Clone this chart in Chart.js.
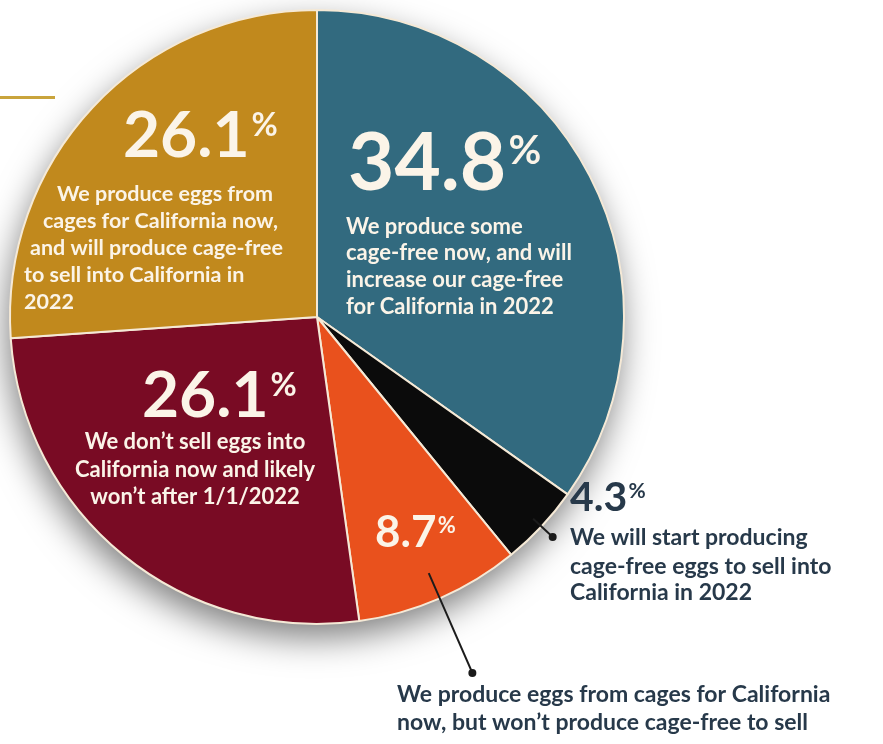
<!DOCTYPE html>
<html>
<head>
<meta charset="utf-8">
<script src="https://cdn.jsdelivr.net/npm/chart.js@4.4.0/dist/chart.umd.min.js"></script>
<style>
  html, body { margin: 0; padding: 0; background: #fff; }
  #wrap { width: 883px; height: 744px; }
</style>
</head>
<body>
<div id="wrap"><canvas id="eggChart" width="883" height="744"></canvas></div>
<script>
// survey answers, clockwise from 12 o'clock
const categories = [
    ['We produce some', 'cage-free now, and will', 'increase our cage-free', 'for California in 2022'],
    ['We will start producing', 'cage-free eggs to sell into', 'California in 2022'],
    ['We produce eggs from cages for California', 'now, but won\u2019t produce cage-free to sell'],
    ['We don\u2019t sell eggs into', 'California now and likely', 'won\u2019t after 1/1/2022'],
    ['We produce eggs from', 'cages for California now,', 'and will produce cage-free', 'to sell into California in', '2022']
];
const shares = [34.8, 4.3, 8.7, 26.1, 26.1];

const FONT = 'Lato, "Open Sans", sans-serif';
const CREAM = '#fbf4e8';
const SLATE = '#27394a';

// where each answer's text sits, as offsets from the pie centre
const labelLayout = [
    { num: [31, -127, 80], left: 29, y: [-90, -64, -37, -10], size: 22, align: 'left', color: CREAM },
    { num: [253, 194, 41], left: 253, y: [221, 250, 276], size: 23, align: 'left', color: SLATE, lead: [0.963, 1.05] },
    { num: [58, 230, 44], left: 80, y: [378, 406], size: 23, align: 'left', color: SLATE, numColor: CREAM, lead: [0.91, 1.265] },
    { num: [-175, 100, 64], left: -122, y: [125, 153, 180], size: 22, align: 'center', color: CREAM },
    { num: [-194, -160, 64], lefts: [-260, -274, -287, -293, -293], y: [-123, -96, -69, -42, -15], size: 21.5, align: 'left', color: CREAM }
];

function drawShare(ctx, value, x, y, size, color) {
    const txt = value.toFixed(1);
    ctx.font = `700 ${size}px ${FONT}`;
    ctx.fillStyle = color;
    ctx.textAlign = 'left';
    ctx.textBaseline = 'alphabetic';
    ctx.fillText(txt, x, y);
    const w = ctx.measureText(txt).width;
    ctx.font = `700 ${Math.round(size * 0.5)}px ${FONT}`;
    ctx.textBaseline = 'top';
    ctx.fillText('%', x + w + size * 0.03, y - size * 0.74);
}

const pieDecor = {
    id: 'pieDecor',
    beforeDatasetsDraw(chart) {
        // soft drop shadow under the whole pie
        const arc = chart.getDatasetMeta(0).data[0];
        const ctx = chart.ctx;
        ctx.save();
        ctx.beginPath();
        ctx.arc(arc.x, arc.y, arc.outerRadius, 0, Math.PI * 2);
        ctx.shadowColor = 'rgba(0,0,0,0.5)';
        ctx.shadowBlur = 34;
        ctx.shadowOffsetX = -3;
        ctx.shadowOffsetY = 14;
        ctx.fillStyle = '#fff';
        ctx.fill();
        ctx.restore();
    },
    afterDatasetsDraw(chart) {
        const ctx = chart.ctx;
        const arcs = chart.getDatasetMeta(0).data;
        const cx = arcs[0].x, cy = arcs[0].y;
        ctx.save();

        // little gold rule at the top left
        ctx.fillStyle = '#c9a43c';
        ctx.fillRect(0, 96, 55, 3);

        arcs.forEach((arc, i) => {
            const L = labelLayout[i];
            if (L.lead) {
                const mid = (arc.startAngle + arc.endAngle) / 2;
                const r = arc.outerRadius;
                const x1 = cx + Math.cos(mid) * r * L.lead[0], y1 = cy + Math.sin(mid) * r * L.lead[0];
                const x2 = cx + Math.cos(mid) * r * L.lead[1], y2 = cy + Math.sin(mid) * r * L.lead[1];
                ctx.strokeStyle = '#1b1b1b';
                ctx.lineWidth = 2;
                ctx.beginPath();
                ctx.moveTo(x1, y1);
                ctx.lineTo(x2, y2);
                ctx.stroke();
                ctx.fillStyle = '#1b1b1b';
                ctx.beginPath();
                ctx.arc(x2, y2, 4, 0, Math.PI * 2);
                ctx.fill();
            }

            drawShare(ctx, shares[i], cx + L.num[0], cy + L.num[1], L.num[2], L.numColor || L.color);

            ctx.font = `700 ${L.size}px ${FONT}`;
            ctx.fillStyle = L.color;
            ctx.textBaseline = 'middle';
            ctx.textAlign = L.align;
            categories[i].forEach((line, k) => {
                const x = L.lefts ? L.lefts[k] : L.left;
                ctx.fillText(line, cx + x, cy + L.y[k]);
            });
        });
        ctx.restore();
    }
};

new Chart(document.getElementById('eggChart').getContext('2d'), {
    type: 'pie',
    data: {
        labels: categories.map(c => c.join(' ')),
        datasets: [{
            data: shares,
            backgroundColor: ['#326a7f', '#0b0b0b', '#e9511d', '#790b24', '#c1891d'],
            borderColor: '#f5e9d6',
            borderWidth: 2,
            hoverOffset: 0
        }]
    },
    options: {
        responsive: false,
        animation: false,
        layout: { padding: { left: 9, top: 9, right: 258, bottom: 119 } },
        plugins: {
            legend: { display: false },
            tooltip: { enabled: false }
        }
    },
    plugins: [pieDecor]
});
</script>
</body>
</html>
